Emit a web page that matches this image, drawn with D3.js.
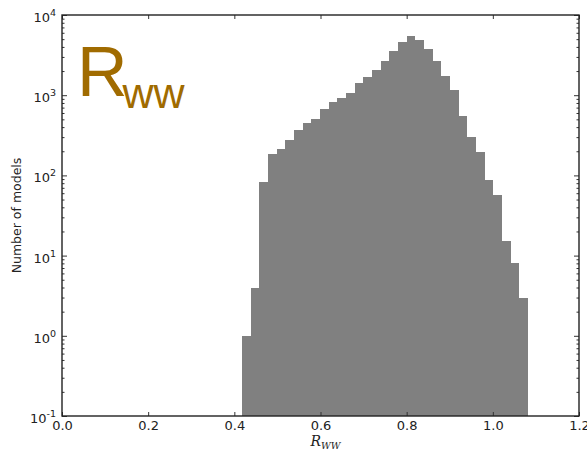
<!DOCTYPE html>
<html>
<head>
<meta charset="utf-8">
<script src="https://cdn.jsdelivr.net/npm/d3@7"></script>
<style>
  html, body { margin: 0; padding: 0; background: #fff; }
  svg { display: block; }
</style>
</head>
<body>
<svg id="chart" width="587" height="454"></svg>
<script>
// Histogram of R_WW over the model scan: 33 equal bins between binLo and binHi
const binLo = 0.418;
const binHi = 1.082;
const counts = [1, 4, 82, 185, 211, 276, 368, 454, 509, 673, 830, 931, 1057, 1407, 1671,
                2080, 2647, 3590, 4645, 5470, 4875, 3733, 2647, 1750, 1171, 546, 304, 194,
                88, 57, 15, 8, 3];
const xTicks = [0.0, 0.2, 0.4, 0.6, 0.8, 1.0, 1.2];
const yExponents = [-1, 0, 1, 2, 3, 4];

const svg = d3.select("#chart");
const plotLeft = 62, plotRight = 579, plotTop = 15, plotBottom = 416;

const x = d3.scaleLinear().domain([0, 1.2]).range([plotLeft, plotRight]);
const y = d3.scaleLog().domain([0.1, 1e4]).range([plotBottom, plotTop]);

const binW = (binHi - binLo) / counts.length;
const bins = counts.map((c, i) => ({ x0: binLo + i * binW, x1: binLo + (i + 1) * binW, n: c }));

// bars (crisp edges so neighbouring bars join without seams)
svg.append("g").attr("shape-rendering", "crispEdges")
  .selectAll("rect").data(bins).join("rect")
  .attr("x", d => x(d.x0))
  .attr("width", d => x(d.x1) - x(d.x0))
  .attr("y", d => y(d.n))
  .attr("height", d => plotBottom - y(d.n))
  .attr("fill", "#808080");

const tickColor = "#333";
const labelFont = "DejaVu Sans, sans-serif";

// minor ticks on the log axis
const minor = [];
yExponents.slice(0, -1).forEach(e => {
  for (let m = 2; m <= 9; m++) minor.push(m * Math.pow(10, e));
});

// x axis (bottom, labelled) and top (ticks only), ticks pointing inward
const xb = svg.append("g").attr("transform", `translate(0,${plotBottom})`)
  .call(d3.axisBottom(x).tickValues(xTicks).tickFormat(d3.format(".1f"))
        .tickSizeInner(-4).tickSizeOuter(0).tickPadding(4));
xb.select(".domain").remove();
xb.selectAll("line").attr("stroke", tickColor);
xb.selectAll("text").attr("font-family", labelFont).attr("font-size", 13).attr("fill", "#222")
  .attr("dy", "0.78em");

const xt = svg.append("g").attr("transform", `translate(0,${plotTop})`)
  .call(d3.axisTop(x).tickValues(xTicks).tickFormat("").tickSizeInner(-4).tickSizeOuter(0));
xt.select(".domain").remove();
xt.selectAll("line").attr("stroke", tickColor);

// y axis: major ticks labelled as powers of ten
const yl = svg.append("g").attr("transform", `translate(${plotLeft},0)`)
  .call(d3.axisLeft(y).tickValues(yExponents.map(e => Math.pow(10, e)))
        .tickFormat("").tickSizeInner(-5).tickSizeOuter(0));
yl.select(".domain").remove();
yl.selectAll("line").attr("stroke", tickColor);

const ylm = svg.append("g").attr("transform", `translate(${plotLeft},0)`)
  .call(d3.axisLeft(y).tickValues(minor).tickFormat("").tickSizeInner(-2.5).tickSizeOuter(0));
ylm.select(".domain").remove();
ylm.selectAll("line").attr("stroke", tickColor);

const yr = svg.append("g").attr("transform", `translate(${plotRight},0)`)
  .call(d3.axisRight(y).tickValues(yExponents.map(e => Math.pow(10, e)))
        .tickFormat("").tickSizeInner(-5).tickSizeOuter(0));
yr.select(".domain").remove();
yr.selectAll("line").attr("stroke", tickColor);

const yrm = svg.append("g").attr("transform", `translate(${plotRight},0)`)
  .call(d3.axisRight(y).tickValues(minor).tickFormat("").tickSizeInner(-2.5).tickSizeOuter(0));
yrm.select(".domain").remove();
yrm.selectAll("line").attr("stroke", tickColor);

const ylab = svg.append("g").selectAll("text").data(yExponents).join("text")
  .attr("x", plotLeft - 6)
  .attr("y", d => y(Math.pow(10, d)) + 7)
  .attr("text-anchor", "end")
  .attr("font-family", labelFont)
  .attr("font-size", 13)
  .attr("fill", "#222");
ylab.append("tspan").text("10");
ylab.append("tspan").attr("dy", -6).attr("font-size", 9.5).text(d => d < 0 ? "-" + Math.abs(d) : d);

// frame
svg.append("rect")
  .attr("x", plotLeft).attr("y", plotTop)
  .attr("width", plotRight - plotLeft).attr("height", plotBottom - plotTop)
  .attr("fill", "none").attr("stroke", "#222").attr("stroke-width", 1.4);

// axis titles
svg.append("text")
  .attr("transform", `translate(21,${(plotTop + plotBottom) / 2}) rotate(-90)`)
  .attr("text-anchor", "middle")
  .attr("font-family", labelFont).attr("font-size", 12.5).attr("fill", "#222")
  .text("Number of models");

const xl = svg.append("text")
  .attr("x", (plotLeft + plotRight) / 2 + 5).attr("y", 446)
  .attr("text-anchor", "middle")
  .attr("font-family", "DejaVu Serif, serif").attr("font-style", "italic")
  .attr("font-size", 14).attr("fill", "#222");
xl.append("tspan").text("R");
xl.append("tspan").attr("dy", 3).attr("font-size", 9.5).text("WW");

// large panel tag
const tag = svg.append("text")
  .attr("x", 77).attr("y", 96)
  .attr("font-family", "Liberation Sans, Arial, sans-serif")
  .attr("fill", "#A06B00");
tag.append("tspan").attr("font-size", 70).text("R");
tag.append("tspan").attr("dx", -5).attr("dy", 12).attr("font-size", 43).text("ww");
</script>
</body>
</html>
